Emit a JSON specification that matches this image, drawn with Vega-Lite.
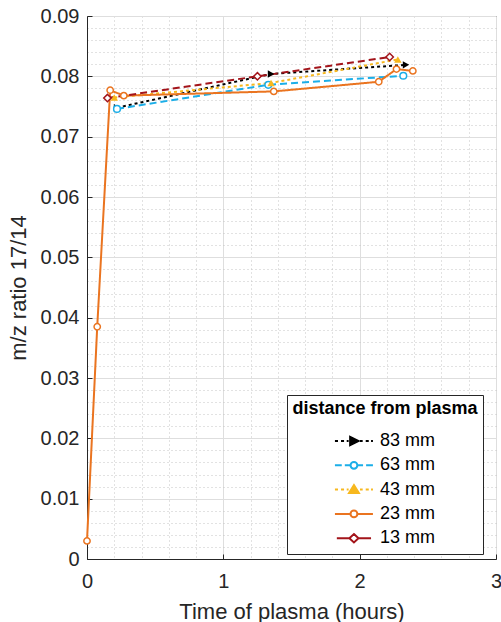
{
  "$schema": "https://vega.github.io/schema/vega-lite/v6.json",
  "width": 409,
  "height": 543,
  "autosize": {"type": "none"},
  "padding": {"left": 87, "top": 16, "right": 5, "bottom": 63},
  "background": "white",
  "config": {
    "font": "Liberation Sans",
    "view": {"stroke": "#262626", "strokeWidth": 1}
  },
  "data": {
    "values": [
      {"series": "83 mm", "t": 0.22, "r": 0.0748},
      {"series": "83 mm", "t": 1.35, "r": 0.0804},
      {"series": "83 mm", "t": 2.34, "r": 0.0819},
      {"series": "63 mm", "t": 0.22, "r": 0.0746},
      {"series": "63 mm", "t": 1.33, "r": 0.0786},
      {"series": "63 mm", "t": 2.32, "r": 0.0801},
      {"series": "43 mm", "t": 0.2, "r": 0.0765},
      {"series": "43 mm", "t": 1.35, "r": 0.0789},
      {"series": "43 mm", "t": 2.28, "r": 0.0828},
      {"series": "23 mm", "t": 0, "r": 0.003},
      {"series": "23 mm", "t": 0.075, "r": 0.0385},
      {"series": "23 mm", "t": 0.17, "r": 0.0777},
      {"series": "23 mm", "t": 0.27, "r": 0.0768},
      {"series": "23 mm", "t": 1.37, "r": 0.0775},
      {"series": "23 mm", "t": 2.14, "r": 0.0791},
      {"series": "23 mm", "t": 2.27, "r": 0.0812},
      {"series": "23 mm", "t": 2.39, "r": 0.0809},
      {"series": "13 mm", "t": 0.15, "r": 0.0764},
      {"series": "13 mm", "t": 1.25, "r": 0.08},
      {"series": "13 mm", "t": 2.22, "r": 0.0832}
    ]
  },
  "encoding": {
    "x": {
      "field": "t", "type": "quantitative",
      "scale": {"domain": [0, 3], "nice": false, "zero": false},
      "axis": {
        "title": "Time of plasma (hours)",
        "values": [0, 0.2, 0.4, 0.6, 0.8, 1, 1.2, 1.4, 1.6, 1.8, 2, 2.2, 2.4, 2.6, 2.8, 3],
        "labelExpr": "abs(datum.value - round(datum.value)) < 1e-6 ? format(datum.value, 'd') : ''",
        "labelOverlap": false,
        "labelFlush": false,
        "labelFontSize": 20,
        "labelColor": "#262626",
        "labelPadding": 17,
        "tickSize": -5,
        "tickColor": "#262626",
        "tickOpacity": {"condition": {"test": "abs(datum.value - round(datum.value)) < 1e-6", "value": 1}, "value": 0},
        "domainColor": "#262626",
        "grid": true,
        "gridColor": {"condition": {"test": "abs(datum.value - round(datum.value)) < 1e-6", "value": "#dedede"}, "value": "#c4c4c4"},
        "gridDash": {"condition": {"test": "abs(datum.value - round(datum.value)) < 1e-6", "value": []}, "value": [1, 3]},
        "titleFontSize": 22,
        "titleFontWeight": "normal",
        "titleColor": "#262626",
        "titlePadding": 10
      }
    },
    "y": {
      "field": "r", "type": "quantitative",
      "scale": {"domain": [0, 0.09], "nice": false},
      "axis": {
        "title": "m/z ratio 17/14",
        "values": [0, 0.002, 0.004, 0.006, 0.008, 0.01, 0.012, 0.014, 0.016, 0.018, 0.02, 0.022, 0.024, 0.026, 0.028, 0.03, 0.032, 0.034, 0.036, 0.038, 0.04, 0.042, 0.044, 0.046, 0.048, 0.05, 0.052, 0.054, 0.056, 0.058, 0.06, 0.062, 0.064, 0.066, 0.068, 0.07, 0.072, 0.074, 0.076, 0.078, 0.08, 0.082, 0.084, 0.086, 0.088, 0.09],
        "labelExpr": "abs(datum.value * 100 - round(datum.value * 100)) < 1e-6 ? format(datum.value, '.2~f') : ''",
        "labelOverlap": false,
        "labelFlush": false,
        "labelFontSize": 20,
        "labelColor": "#262626",
        "labelPadding": 13,
        "tickSize": -5,
        "tickColor": "#262626",
        "tickOpacity": {"condition": {"test": "abs(datum.value * 100 - round(datum.value * 100)) < 1e-6", "value": 1}, "value": 0},
        "domainColor": "#262626",
        "grid": true,
        "gridColor": {"condition": {"test": "abs(datum.value * 100 - round(datum.value * 100)) < 1e-6", "value": "#dedede"}, "value": "#c4c4c4"},
        "gridDash": {"condition": {"test": "abs(datum.value * 100 - round(datum.value * 100)) < 1e-6", "value": []}, "value": [1, 3]},
        "titleFontSize": 22,
        "titleFontWeight": "normal",
        "titleColor": "#262626",
        "titlePadding": 10
      }
    }
  },
  "layer": [
    {
      "mark": {"type": "line", "strokeWidth": 2},
      "encoding": {
        "color": {
          "field": "series", "type": "nominal",
          "scale": {"domain": ["13 mm", "23 mm", "43 mm", "63 mm", "83 mm"], "range": ["#A3141A", "#EA7420", "#F7B81E", "#1BAEE8", "#000000"]},
          "legend": null
        },
        "strokeDash": {
          "field": "series", "type": "nominal",
          "scale": {"domain": ["13 mm", "23 mm", "43 mm", "63 mm", "83 mm"], "range": [[7, 4], [1, 0], [3, 3], [7, 4], [3, 3]]},
          "legend": null
        }
      }
    },
    {
      "transform": [{"filter": "datum.series === '83 mm'"}],
      "mark": {"type": "point", "shape": "triangle-right", "filled": true, "size": 55, "strokeWidth": 1.5, "opacity": 1},
      "encoding": {
        "color": {"field": "series", "type": "nominal", "scale": {"domain": ["13 mm", "23 mm", "43 mm", "63 mm", "83 mm"], "range": ["#A3141A", "#EA7420", "#F7B81E", "#1BAEE8", "#000000"]}, "legend": null}
      }
    },
    {
      "transform": [{"filter": "datum.series === '63 mm'"}],
      "mark": {"type": "point", "shape": "circle", "filled": false, "fill": "white", "size": 45, "strokeWidth": 1.5, "opacity": 1},
      "encoding": {
        "color": {"field": "series", "type": "nominal", "scale": {"domain": ["13 mm", "23 mm", "43 mm", "63 mm", "83 mm"], "range": ["#A3141A", "#EA7420", "#F7B81E", "#1BAEE8", "#000000"]}, "legend": null}
      }
    },
    {
      "transform": [{"filter": "datum.series === '43 mm'"}],
      "mark": {"type": "point", "shape": "triangle-up", "filled": true, "size": 55, "strokeWidth": 1.5, "opacity": 1},
      "encoding": {
        "color": {"field": "series", "type": "nominal", "scale": {"domain": ["13 mm", "23 mm", "43 mm", "63 mm", "83 mm"], "range": ["#A3141A", "#EA7420", "#F7B81E", "#1BAEE8", "#000000"]}, "legend": null}
      }
    },
    {
      "transform": [{"filter": "datum.series === '23 mm'"}],
      "mark": {"type": "point", "shape": "circle", "filled": false, "fill": "white", "size": 40, "strokeWidth": 1.5, "opacity": 1},
      "encoding": {
        "color": {"field": "series", "type": "nominal", "scale": {"domain": ["13 mm", "23 mm", "43 mm", "63 mm", "83 mm"], "range": ["#A3141A", "#EA7420", "#F7B81E", "#1BAEE8", "#000000"]}, "legend": null}
      }
    },
    {
      "transform": [{"filter": "datum.series === '13 mm'"}],
      "mark": {"type": "point", "shape": "diamond", "filled": false, "fill": "white", "size": 55, "strokeWidth": 1.5, "opacity": 1},
      "encoding": {
        "color": {"field": "series", "type": "nominal", "scale": {"domain": ["13 mm", "23 mm", "43 mm", "63 mm", "83 mm"], "range": ["#A3141A", "#EA7420", "#F7B81E", "#1BAEE8", "#000000"]}, "legend": null}
      }
    },
    {
      "mark": {"type": "point", "filled": true, "opacity": 0, "size": 1444, "strokeWidth": 2},
      "encoding": {
        "stroke": {
          "field": "series", "type": "nominal",
          "scale": {"domain": ["83 mm", "63 mm", "43 mm", "23 mm", "13 mm"], "range": ["#000000", "#1BAEE8", "#F7B81E", "#EA7420", "#A3141A"]},
          "legend": {"title": "distance from plasma", "orient": "none", "legendX": 200, "legendY": 379, "direction": "vertical", "fillColor": "white", "strokeColor": "#262626", "padding": 5, "titleFontSize": 18, "titleFontWeight": "bold", "titleColor": "#000000", "titleAnchor": "middle", "titlePadding": 13, "titleLimit": 400, "labelFontSize": 18, "labelColor": "#000000", "labelOffset": -8, "symbolSize": 1444, "symbolStrokeWidth": 2, "symbolOpacity": 1, "clipHeight": 20, "rowPadding": 4.3, "symbolOffset": 14}
        },
        "fill": {
          "field": "series", "type": "nominal",
          "scale": {"domain": ["83 mm", "63 mm", "43 mm", "23 mm", "13 mm"], "range": ["#000000", "#ffffff", "#F7B81E", "#ffffff", "#ffffff"]},
          "legend": {"title": "distance from plasma", "orient": "none", "legendX": 200, "legendY": 379, "direction": "vertical", "fillColor": "white", "strokeColor": "#262626", "padding": 5, "titleFontSize": 18, "titleFontWeight": "bold", "titleColor": "#000000", "titleAnchor": "middle", "titlePadding": 13, "titleLimit": 400, "labelFontSize": 18, "labelColor": "#000000", "labelOffset": -8, "symbolSize": 1444, "symbolStrokeWidth": 2, "symbolOpacity": 1, "clipHeight": 20, "rowPadding": 4.3, "symbolOffset": 14}
        },
        "shape": {
          "field": "series", "type": "nominal",
          "scale": {"domain": ["83 mm", "63 mm", "43 mm", "23 mm", "13 mm"], "range": [
            "M-1.74,0L-1.58,0M-1.42,0L-1.26,0M-1.12,0L-1.02,0M-0.94,-0.22L-0.5,0L-0.94,0.22ZM-0.42,0L-0.28,0M-0.12,0L0.04,0M0.16,0L0.26,0",
            "M-1.74,0L-1.38,0M-1.22,0L-0.94,0M-0.56,0A0.18,0.18 0 1,1 -0.92,0A0.18,0.18 0 1,1 -0.56,0ZM-0.54,0L-0.26,0M-0.1,0L0.26,0",
            "M-1.74,0L-1.58,0M-1.42,0L-1.26,0M-1.12,0L-1.02,0M-0.74,-0.24L-0.48,0.18L-1,0.18ZM-0.42,0L-0.28,0M-0.12,0L0.04,0M0.16,0L0.26,0",
            "M-1.74,0L-0.92,0M-0.56,0A0.18,0.18 0 1,1 -0.92,0A0.18,0.18 0 1,1 -0.56,0ZM-0.56,0L0.26,0",
            "M-1.64,0L-0.98,0M-0.74,-0.22L-0.5,0L-0.74,0.22L-0.98,0ZM-0.5,0L0.16,0"
          ]},
          "legend": {"title": "distance from plasma", "orient": "none", "legendX": 200, "legendY": 379, "direction": "vertical", "fillColor": "white", "strokeColor": "#262626", "padding": 5, "titleFontSize": 18, "titleFontWeight": "bold", "titleColor": "#000000", "titleAnchor": "middle", "titlePadding": 13, "titleLimit": 400, "labelFontSize": 18, "labelColor": "#000000", "labelOffset": -8, "symbolSize": 1444, "symbolStrokeWidth": 2, "symbolOpacity": 1, "clipHeight": 20, "rowPadding": 4.3, "symbolOffset": 14}
        }
      }
    }
  ]
}
